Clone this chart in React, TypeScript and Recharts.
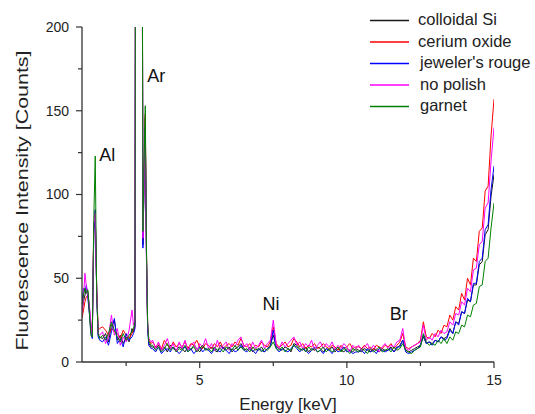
import React from 'react';
import { LineChart, Line, XAxis, YAxis, ReferenceDot, Legend, Label } from 'recharts';

// Energy grid [keV]
const energy = [
  1.0, 1.05, 1.1, 1.15, 1.2, 1.25, 1.3, 1.35, 1.4, 1.45, 1.5, 1.55, 1.6,
  1.7, 1.8, 1.9, 2.0, 2.1, 2.2, 2.3, 2.4, 2.5, 2.6, 2.7,
  2.75, 2.8, 2.83, 2.93, 3.03, 3.07, 3.11, 3.15, 3.19, 3.23, 3.27, 3.35,
  3.4, 3.5, 3.6, 3.7, 3.8, 3.9, 4.0, 4.1, 4.2, 4.3,
  4.4, 4.5, 4.6, 4.7, 4.8, 4.9, 5.0, 5.1, 5.2, 5.3,
  5.4, 5.5, 5.6, 5.7, 5.8, 5.9, 6.0, 6.1, 6.2, 6.3,
  6.4, 6.5, 6.6, 6.7, 6.8, 6.9, 7.0, 7.1, 7.2, 7.3,
  7.4, 7.5, 7.6, 7.7, 7.8, 7.9, 8.0, 8.1, 8.2, 8.3,
  8.4, 8.5, 8.6, 8.7, 8.8, 8.9, 9.0, 9.1, 9.2, 9.3,
  9.4, 9.5, 9.6, 9.7, 9.8, 9.9, 10.0, 10.1, 10.2, 10.3,
  10.4, 10.5, 10.6, 10.7, 10.8, 10.9, 11.0, 11.1, 11.2, 11.3,
  11.4, 11.5, 11.6, 11.7, 11.8, 11.9, 12.0, 12.1, 12.2, 12.3,
  12.4, 12.5, 12.6, 12.7, 12.8, 12.9, 13.0, 13.1, 13.2, 13.3,
  13.4, 13.5, 13.6, 13.7, 13.8, 13.9, 14.0, 14.1, 14.2, 14.3,
  14.4, 14.5, 14.6, 14.7, 14.8, 14.9, 15.0,
];

const colloidalSi = [
  30, 36, 40, 44, 42, 33, 22, 17, 78, 90, 42, 16, 15,
  14, 17, 12, 22, 25, 13, 16, 11, 15, 12, 20,
  18, 22, 400, 880, 420, 70, 110, 146, 65, 22, 11, 9,
  9, 8, 10, 7, 9, 6, 10, 8, 7, 9,
  8, 6, 9, 7, 10, 8, 6, 9, 8, 7,
  9, 7, 6, 10, 8, 7, 9, 6, 8, 9,
  11, 8, 7, 9, 6, 8, 7, 9, 6, 8,
  10, 16, 9, 8, 7, 9, 8, 6, 11, 10,
  8, 7, 9, 6, 8, 7, 9, 8, 6, 8,
  7, 9, 6, 8, 7, 6, 8, 7, 6, 8,
  7, 6, 8, 7, 6, 8, 7, 6, 8, 7,
  7, 9, 6, 8, 10, 13, 7, 6, 7, 8,
  9, 10, 15, 11, 12, 11, 13, 12, 15, 14,
  15, 20, 17, 24, 23, 30, 29, 37, 36, 46,
  46, 58, 60, 76, 79, 99, 112,
];

const ceriumOxide = [
  26, 31, 36, 39, 40, 30, 20, 18, 80, 88, 44, 19, 20,
  21, 19, 16, 20, 18, 17, 14, 19, 16, 14, 17,
  19, 21, 390, 860, 410, 73, 112, 148, 66, 21, 13, 11,
  12, 9, 11, 8, 13, 10, 8, 12, 9, 11,
  9, 12, 8, 11, 10, 13, 9, 8, 11, 10,
  8, 11, 9, 12, 8, 10, 11, 9, 12, 10,
  14, 10, 9, 11, 8, 10, 9, 12, 10, 9,
  12, 21, 11, 9, 10, 12, 9, 10, 14, 12,
  9, 11, 8, 10, 9, 11, 8, 9, 11, 9,
  8, 10, 9, 7, 10, 8, 9, 11, 8, 9,
  9, 8, 10, 8, 9, 7, 10, 9, 8, 10,
  9, 11, 8, 10, 12, 17, 9, 8, 9, 10,
  11, 13, 24, 15, 14, 17, 15, 19, 17, 22,
  21, 28, 25, 33, 31, 41, 37, 50, 46, 62,
  60, 78, 80, 102, 105, 135, 157,
];

const jewelersRouge = [
  36, 44, 42, 46, 38, 29, 18, 14, 76, 91, 40, 15, 13,
  12, 15, 10, 18, 26, 11, 14, 9, 17, 13, 15,
  17, 20, 405, 870, 415, 68, 108, 140, 62, 20, 10, 8,
  8, 6, 9, 5, 7, 8, 6, 9, 7, 5,
  7, 9, 6, 8, 5, 7, 9, 6, 8, 7,
  5, 8, 7, 6, 9, 7, 5, 8, 6, 7,
  10, 7, 6, 8, 7, 5, 8, 7, 6, 8,
  9, 19, 8, 6, 8, 7, 6, 8, 10, 8,
  6, 8, 7, 5, 7, 9, 6, 7, 5, 8,
  7, 5, 8, 6, 7, 9, 6, 7, 5, 6,
  6, 7, 5, 8, 6, 7, 5, 8, 7, 6,
  7, 8, 6, 9, 9, 13, 6, 5, 6, 7,
  8, 10, 16, 11, 12, 10, 13, 12, 15, 13,
  14, 19, 17, 24, 22, 30, 29, 38, 36, 47,
  47, 60, 62, 79, 82, 103, 117,
];

const noPolish = [
  29, 38, 53, 45, 40, 34, 24, 16, 82, 89, 43, 17, 16,
  18, 11, 15, 28, 16, 20, 10, 15, 12, 19, 31,
  22, 25, 395, 850, 400, 74, 105, 138, 64, 23, 14, 12,
  13, 8, 12, 7, 10, 14, 8, 11, 6, 12,
  8, 13, 7, 10, 12, 6, 11, 9, 14, 8,
  11, 7, 13, 8, 10, 12, 7, 11, 9, 13,
  15, 9, 11, 7, 12, 8, 10, 13, 8, 11,
  13, 25, 10, 8, 12, 9, 11, 13, 15, 10,
  12, 8, 11, 9, 13, 7, 10, 12, 8, 11,
  9, 12, 7, 10, 8, 11, 9, 6, 10, 8,
  10, 7, 9, 11, 7, 10, 8, 6, 9, 11,
  8, 10, 9, 12, 13, 20, 8, 7, 9, 10,
  11, 12, 22, 13, 15, 13, 17, 15, 19, 17,
  18, 24, 22, 29, 28, 36, 34, 44, 42, 55,
  56, 70, 72, 92, 95, 120, 140,
];

const garnet = [
  34, 40, 44, 41, 43, 30, 16, 15, 85, 123, 40, 17, 14,
  16, 13, 17, 24, 19, 15, 12, 17, 13, 16, 18,
  20, 24, 420, 900, 430, 78, 120, 153, 70, 24, 12, 10,
  10, 7, 9, 6, 8, 11, 7, 9, 6, 8,
  7, 10, 6, 8, 9, 6, 8, 10, 7, 8,
  6, 9, 7, 8, 6, 9, 8, 7, 10, 7,
  9, 7, 8, 6, 9, 7, 8, 6, 8, 7,
  9, 12, 8, 7, 9, 6, 8, 7, 10, 9,
  7, 8, 6, 9, 7, 8, 6, 7, 9, 6,
  8, 6, 7, 9, 6, 8, 7, 5, 8, 7,
  6, 8, 7, 5, 8, 6, 7, 9, 6, 7,
  8, 6, 9, 7, 8, 11, 7, 6, 5, 7,
  8, 9, 17, 12, 10, 11, 10, 13, 11, 14,
  11, 15, 13, 18, 17, 22, 21, 28, 27, 34,
  35, 45, 46, 60, 62, 80, 95,
];

const seriesNames = ['colloidal Si', 'cerium oxide', "jeweler's rouge", 'no polish', 'garnet'];
const seriesKeys = ['colloidalSi', 'ceriumOxide', 'jewelersRouge', 'noPolish', 'garnet'];
const seriesColors = ['#1a1a1a', '#ff0000', '#0000ff', '#ff00ff', '#008000'];
const seriesValues = [colloidalSi, ceriumOxide, jewelersRouge, noPolish, garnet];

const xTicks = [2.5, 5, 7.5, 10, 12.5, 15];
const xLabeledTicks = [5, 10, 15];
const yTicks = [0, 25, 50, 75, 100, 125, 150, 175, 200];
const yLabeledTicks = [0, 50, 100, 150, 200];

const peakNames = ['Al', 'Ar', 'Ni', 'Br'];
const peakEnergies = [1.86, 3.52, 7.42, 11.76];
const peakCounts = [124, 171, 35, 29];

const data = energy.map((e, i) => {
  const row: Record<string, number> = { energy: e };
  seriesKeys.forEach((k, j) => {
    row[k] = seriesValues[j][i];
  });
  return row;
});

const FONT = '"Liberation Sans", Arial, sans-serif';
const AXIS_COLOR = '#333';
const TICK_SIZE = 6;
const TICK_MARGIN = 7;

const YTick = (props: any) => {
  const { x, y, payload } = props;
  const axisX = x + TICK_SIZE + TICK_MARGIN;
  const major = yLabeledTicks.includes(payload.value);
  return (
    <g>
      <line x1={axisX - (major ? 6 : 4)} x2={axisX} y1={y} y2={y} stroke={AXIS_COLOR} strokeWidth={1.2} />
      {major && (
        <text x={x} y={y} dy="0.355em" textAnchor="end" fontSize={14} fill="#222" fontFamily={FONT}>
          {payload.value}
        </text>
      )}
    </g>
  );
};

const XTick = (props: any) => {
  const { x, y, payload } = props;
  const axisY = y - TICK_SIZE - TICK_MARGIN;
  const major = xLabeledTicks.includes(payload.value);
  return (
    <g>
      <line x1={x} x2={x} y1={axisY} y2={axisY + (major ? 6 : 4)} stroke={AXIS_COLOR} strokeWidth={1.2} />
      {major && (
        <text x={x} y={y} dy="0.71em" textAnchor="middle" fontSize={14} fill="#222" fontFamily={FONT}>
          {payload.value}
        </text>
      )}
    </g>
  );
};

const YAxisTitle = (props: any) => {
  const { viewBox } = props;
  const cx = viewBox.x + 20;
  const cy = viewBox.y + viewBox.height / 2 + 6;
  return (
    <text
      x={cx}
      y={cy}
      transform={`rotate(-90, ${cx}, ${cy})`}
      textAnchor="middle"
      dominantBaseline="central"
      fontSize={16}
      fill="#222"
      fontFamily={FONT}
      textLength={300}
      lengthAdjust="spacingAndGlyphs"
    >
      Fluorescence Intensity [Counts]
    </text>
  );
};

const XAxisTitle = (props: any) => {
  const { viewBox } = props;
  const cx = viewBox.x + viewBox.width / 2;
  return (
    <text x={cx} y={viewBox.y + 47.5} textAnchor="middle" fontSize={17} fill="#222" fontFamily={FONT}>
      Energy [keV]
    </text>
  );
};

const LegendContent = () => (
  <svg width={175} height={120} style={{ display: 'block' }}>
    {seriesNames.map((name, i) => {
      const ly = 20.5 + i * 21.5;
      return (
        <g key={name}>
          <line x1={10} x2={49} y1={ly} y2={ly} stroke={seriesColors[i]} strokeWidth={1.5} />
          <text x={58 + (i >= 2 ? 2 : 0)} y={ly + 4.5} fontSize={16.5} fill="#222" fontFamily={FONT}>
            {name}
          </text>
        </g>
      );
    })}
  </svg>
);

export default function App() {
  return (
    <div style={{ position: 'absolute', left: 0, top: 0, width: 535, height: 414, background: '#fff' }}>
      <LineChart width={535} height={414} data={data} margin={{ top: 27, right: 41, bottom: 22, left: 2 }}>
        <XAxis
          type="number"
          dataKey="energy"
          domain={[1, 15]}
          ticks={xTicks}
          interval={0}
          allowDataOverflow
          height={30}
          tickSize={TICK_SIZE}
          tickMargin={TICK_MARGIN}
          tickLine={false}
          axisLine={{ stroke: AXIS_COLOR, strokeWidth: 1.3 }}
          tick={<XTick />}
        >
          <Label content={<XAxisTitle />} />
        </XAxis>
        <YAxis
          type="number"
          domain={[0, 200]}
          ticks={yTicks}
          interval={0}
          allowDataOverflow
          width={80}
          tickSize={TICK_SIZE}
          tickMargin={TICK_MARGIN}
          tickLine={false}
          axisLine={{ stroke: AXIS_COLOR, strokeWidth: 1.3 }}
          tick={<YTick />}
        >
          <Label content={<YAxisTitle />} />
        </YAxis>
        <Legend
          layout="horizontal"
          verticalAlign="middle"
          align="center"
          content={<LegendContent />}
          wrapperStyle={{ left: 360, top: 0, width: 175, height: 120 }}
        />
        {seriesKeys.map((k, i) => (
          <Line
            key={k}
            type="linear"
            dataKey={k}
            name={seriesNames[i]}
            stroke={seriesColors[i]}
            strokeWidth={1}
            dot={false}
            activeDot={false}
            isAnimationActive={false}
          />
        ))}
        {peakNames.map((p, i) => (
          <ReferenceDot
            key={p}
            x={peakEnergies[i]}
            y={peakCounts[i]}
            r={1}
            fill="none"
            stroke="none"
            label={{ value: p, position: 'center', fontSize: 18, fill: '#111', fontFamily: FONT }}
          />
        ))}
      </LineChart>
    </div>
  );
}
